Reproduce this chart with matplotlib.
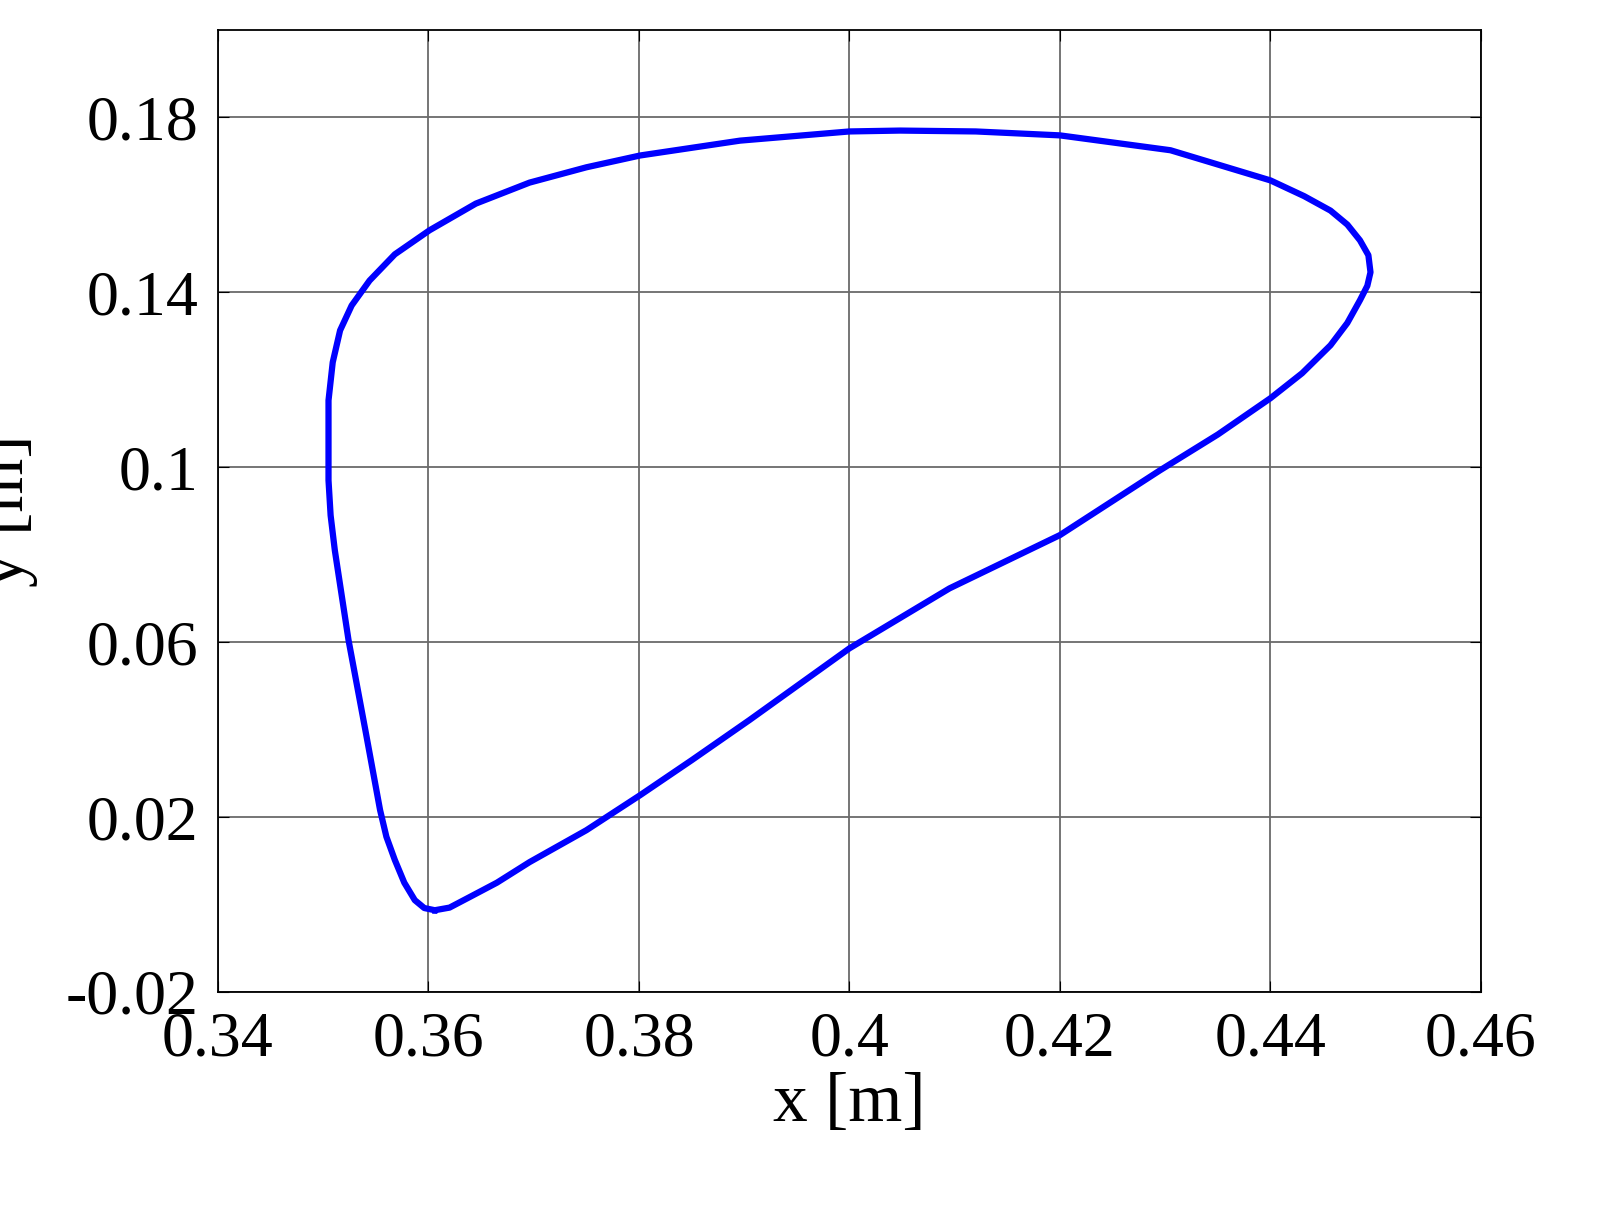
import matplotlib
matplotlib.use("Agg")
import matplotlib.pyplot as plt

x = [0.3606,0.3620,0.3639,0.3665,0.3696,0.3750,0.3801,0.3850,0.3905,0.4000,0.4095,0.4200,0.4295,0.4350,0.4400,0.4430,0.4457,0.4473,0.4485,0.4492,0.4495,0.4493,0.4485,0.4473,0.4457,0.4432,0.4400,0.4305,0.4200,0.4120,0.4048,0.4000,0.3896,0.3801,0.3750,0.3696,0.3645,0.3601,0.3568,0.3544,0.3527,0.3516,0.3509,0.3505,0.3505,0.3507,0.3511,0.3524,0.3540,0.3554,0.3560,0.3568,0.3577,0.3587,0.3596,0.3606]
y = [-0.0013,-0.0007,0.0017,0.0050,0.0097,0.0170,0.0250,0.0330,0.0422,0.0586,0.0723,0.0845,0.0993,0.1075,0.1158,0.1215,0.1279,0.1330,0.1382,0.1415,0.1446,0.1485,0.1519,0.1555,0.1587,0.1620,0.1656,0.1725,0.1759,0.1768,0.1770,0.1768,0.1747,0.1713,0.1686,0.1651,0.1603,0.1542,0.1487,0.1427,0.1370,0.1313,0.1240,0.1153,0.0970,0.0890,0.0810,0.0605,0.0399,0.0216,0.0155,0.0102,0.0050,0.0010,-0.0008,-0.0013]
xticks = [0.34,0.36,0.38,0.4,0.42,0.44,0.46]
yticks = [-0.02,0.02,0.06,0.1,0.14,0.18]

plt.rcParams['font.family'] = ['Liberation Serif']
fig = plt.figure(figsize=(16.01,12.2), dpi=100)
ax = fig.add_axes([218/1601, 1-992/1220, (1481-218)/1601, (992-30)/1220])
ax.plot(x, y, color='#0000ff', lw=4.5, solid_joinstyle='round')
ax.set_xlim(0.34,0.46); ax.set_ylim(-0.02,0.2)
ax.set_xticks(xticks); ax.set_xticklabels([f"{v:g}" for v in xticks])
ax.set_yticks(yticks); ax.set_yticklabels([f"{v:g}" for v in yticks])
ax.grid(True, color='#6a6a6a', lw=1.3)
ax.tick_params(direction='in', labelsize=46, length=8, pad=14, top=True, right=True)
ax.set_xlabel('x [m]', fontsize=50, labelpad=2)
ax.set_ylabel('y [m]', fontsize=50, labelpad=20)
for s in ax.spines.values(): s.set_linewidth(1.3)
fig.savefig('out.png', dpi=100)
